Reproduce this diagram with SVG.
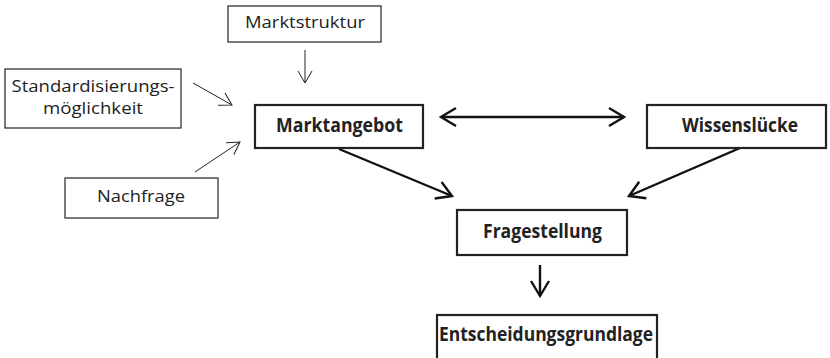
<svg xmlns="http://www.w3.org/2000/svg" width="830" height="358" viewBox="0 0 830 358">
<style>
.thin{fill:#fff;stroke:#222;stroke-width:1.2}
.thick{fill:#fff;stroke:#222;stroke-width:2.2}
.t{font-family:"Open Sans","Liberation Sans",sans-serif;font-size:15.5px;fill:#222}
.b{font-family:"Open Sans","Liberation Sans",sans-serif;font-size:19px;font-weight:bold;fill:#222}
.cl{stroke:#222;stroke-width:1;fill:none}
.ck{stroke:#111;stroke-width:2.4;fill:none}
</style>
<defs>
<marker id="ah" markerUnits="userSpaceOnUse" markerWidth="20" markerHeight="20" viewBox="-14 -10 16 20" refX="0" refY="0" orient="auto-start-reverse">
<path d="M-12,-7 L0,0 L-12,7" fill="none" stroke="#222" stroke-width="1"/>
</marker>
<marker id="ak" markerUnits="userSpaceOnUse" markerWidth="24" markerHeight="24" viewBox="-18 -12 20 24" refX="0" refY="0" orient="auto-start-reverse">
<path d="M-15,-9 L0,0 L-15,9" fill="none" stroke="#111" stroke-width="2.4"/>
</marker>
</defs>
<g id="connectors">
<line class="cl" x1="305" y1="50" x2="305" y2="83" marker-end="url(#ah)"/>
<line class="cl" x1="193" y1="83" x2="232" y2="105" marker-end="url(#ah)"/>
<line class="cl" x1="195" y1="172" x2="240" y2="142" marker-end="url(#ah)"/>
<line class="ck" x1="441" y1="117" x2="624" y2="117" marker-start="url(#ak)" marker-end="url(#ak)"/>
<line class="ck" x1="339" y1="149" x2="452" y2="196" marker-end="url(#ak)"/>
<line class="ck" x1="740" y1="148" x2="629" y2="196" marker-end="url(#ak)"/>
<line class="ck" x1="540" y1="265" x2="540" y2="296" marker-end="url(#ak)"/>
</g>
<g id="marktstruktur">
<rect class="thin" x="228" y="6" width="153" height="36"/>
<text class="t" x="305" y="28" text-anchor="middle" textLength="120" lengthAdjust="spacingAndGlyphs">Marktstruktur</text>
</g>
<g id="standardisierung">
<rect class="thin" x="5" y="69" width="176" height="59"/>
<text class="t" x="93" y="92" text-anchor="middle" textLength="163" lengthAdjust="spacingAndGlyphs">Standardisierungs-</text>
<text class="t" x="93" y="114" text-anchor="middle" textLength="100" lengthAdjust="spacingAndGlyphs">möglichkeit</text>
</g>
<g id="nachfrage">
<rect class="thin" x="65" y="178" width="153" height="40"/>
<text class="t" x="141" y="202" text-anchor="middle" textLength="88" lengthAdjust="spacingAndGlyphs">Nachfrage</text>
</g>
<g id="marktangebot">
<rect class="thick" x="255" y="105" width="168" height="43"/>
<text class="b" x="339.5" y="132" text-anchor="middle" textLength="127" lengthAdjust="spacingAndGlyphs">Marktangebot</text>
</g>
<g id="wissensluecke">
<rect class="thick" x="647" y="105" width="179" height="43"/>
<text class="b" x="740" y="132" text-anchor="middle" textLength="116" lengthAdjust="spacingAndGlyphs">Wissenslücke</text>
</g>
<g id="fragestellung">
<rect class="thick" x="457" y="210" width="170" height="45"/>
<text class="b" x="542.5" y="238" text-anchor="middle" textLength="119" lengthAdjust="spacingAndGlyphs">Fragestellung</text>
</g>
<g id="entscheidungsgrundlage">
<rect class="thick" x="437" y="315" width="220" height="46"/>
<text class="b" x="546" y="341" text-anchor="middle" textLength="214" lengthAdjust="spacingAndGlyphs">Entscheidungsgrundlage</text>
</g>
</svg>
